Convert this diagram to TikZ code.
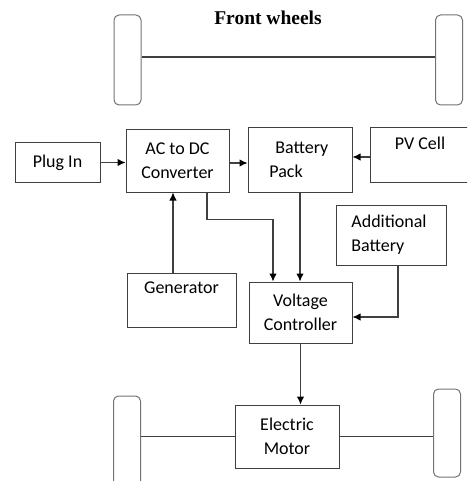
\documentclass[tikz,border=0pt]{standalone}
\usepackage{fontspec}
\setmainfont{Carlito}
\newfontfamily\serifbold{Liberation Serif}
\usepackage{xcolor}
\usepackage{tikz}
\usetikzlibrary{arrows.meta,positioning}

\begin{document}
\begin{tikzpicture}[
   x=1pt,y=-1pt,
   font=\fontsize{18}{24}\selectfont,
   box/.style={draw=black!75,line width=1pt,align=center,inner sep=0pt},
   wheel/.style={draw=black!55,line width=1pt,rounded corners=5pt,minimum width=27pt},
   conn/.style={black!75,line width=1.1pt},
   >={Latex[length=8pt,width=7.5pt,black]}]
 \path[use as bounding box,clip] (0,0) rectangle (467,481);
 % front axle
 \node[font=\fontsize{19.5}{22}\selectfont\serifbold\bfseries] (title) at (268,18) {Front wheels};
 \node[wheel,minimum height=90pt] (flw) at (127.5,60) {};
 \node[wheel,minimum height=90pt] (frw) at (449,60) {};
 \draw[conn] (flw.east |- 0,57) -- (frw.west |- 0,57);
 % power boxes
 \node[box,minimum width=85pt,minimum height=39pt] (plug) at (57.5,162.5) {Plug In};
 \node[box,minimum width=103pt,minimum height=62pt] (acdc) at (177.5,161) {AC to DC\\Converter};
 \node[box,minimum width=104pt,minimum height=64pt,align=left] (batt) at (300,160) {\hspace*{6pt}Battery\\Pack\hspace*{28pt}};
 \node[box,minimum width=110pt,minimum height=54pt] (pv) at (425,155) {\hspace*{-10pt}PV Cell\\\mbox{}};
 \node[box,minimum width=110pt,minimum height=60pt,align=left] (addb) at (391,235) {\hspace*{-4pt}Additional\\\hspace*{-4pt}Battery};
 \node[box,minimum width=109pt,minimum height=54pt] (gen) at (181.5,300) {Generator\\\mbox{}};
 \node[box,minimum width=103pt,minimum height=61pt] (vc) at (300.5,312.5) {Voltage\\Controller};
 \node[box,minimum width=104pt,minimum height=63pt] (em) at (287,436.5) {Electric\\Motor};
 % rear axle
 \node[wheel,minimum height=96pt] (rlw) at (127,444) {};
 \node[wheel,minimum height=88pt] (rrw) at (447,433) {};
 \draw[conn] (rlw.east |- em.west) -- (em.west);
 \draw[conn] (em.east) -- (em.east -| rrw.west);
 % connections
 \draw[conn,->] (plug.east) -- (plug.east -| acdc.west);
 \draw[conn,->] ([yshift=-2pt]acdc.east) -- ([yshift=-2pt]acdc.east -| batt.west);
 \draw[conn,->] ([yshift=-2pt]pv.west) -- ([yshift=-2pt]pv.west -| batt.east);
 \draw[conn,->] ([xshift=-8.5pt]gen.north) -- ([xshift=-8.5pt]gen.north |- acdc.south);
 \draw[conn,->] ([xshift=29.5pt]acdc.south) -- ++(0,27) -| ([xshift=-27.5pt]vc.north);
 \draw[conn,->] (batt.south) -- (batt.south |- vc.north);
 \draw[conn,->] ([xshift=7pt]addb.south) |- ([yshift=-4.5pt]vc.east);
 \draw[conn,->] (vc.south) -- (vc.south |- em.north);
\end{tikzpicture}
\end{document}
